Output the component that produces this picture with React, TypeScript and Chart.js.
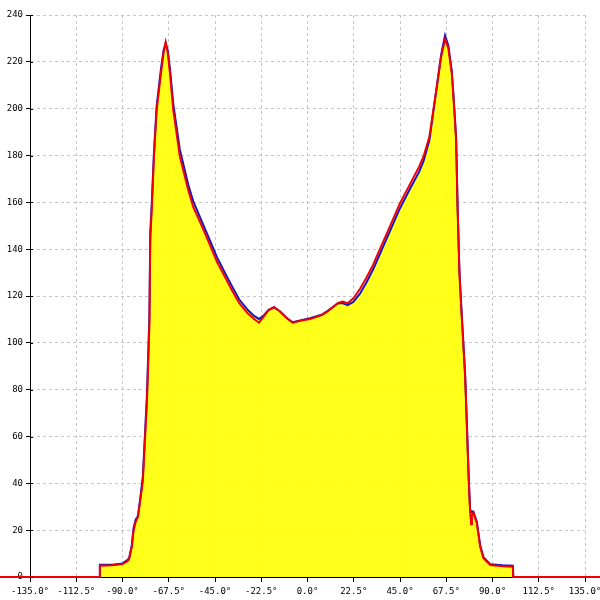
import React, { useEffect, useRef } from "react";
import { Chart, registerables } from "chart.js";

Chart.register(...registerables);

const angles = [
  -150, -101.2, -101, -95, -90, -88, -86.8, -85.5, -84.6, -83.6, -82.5, -81.3, -80.1, -78.1, -76.9, -76.5, -75.7,
  -74.7, -73.4, -71.3, -70, -69, -68, -66.9, -65.3, -62.1, -58, -55.6, -52, -48.3, -44, -40.2, -36.5, -33.2, -29,
  -26, -23.6, -21.5, -19, -16.3, -13.5, -10, -7.2, -3, 1.2, 6.9, 10, 14.7, 17, 19.5, 22.3, 25.5, 28.8, 32, 35, 40,
  45, 50, 54.3, 56.4, 59.3, 61.2, 63, 65, 66.9, 68.5, 70.2, 71.3, 72.3, 73, 73.9, 74.6, 76.7, 78.5, 79.1, 79.6, 80,
  80.7, 82.4, 84, 85.6, 88.9, 95, 99.9, 100.1, 150,
];

const redValues = [
  0, 0, 4.8, 5.0, 5.5, 6.5, 7.5, 12.8, 20, 23.5, 25.6, 33, 41, 75, 108, 144, 158,
  179.5, 199.4, 215, 224, 228.4, 224, 215, 199.4, 179.5, 165.2, 158, 151, 143.5, 134.5, 128.2, 122, 116.9, 112.5,
  110.2, 108.6, 111, 114, 115.2, 113.5, 110.5, 108.6, 109.5, 110.2, 111.9, 113.5, 117, 117.6, 116.9, 119, 123, 128, 133.5, 139.6, 149.5,
  159.6, 168, 175.2, 179.5, 188, 199.4, 210, 222, 229.6, 226, 215, 201, 186.6, 158, 130, 118, 85.5, 40, 28, 22.5, 26.5,
  27.5, 22.9, 12.9, 8, 5.1, 4.6, 4.4, 0, 0,
];

const blueValues = [
  0, 0, 5.2, 5.2, 5.8, 7, 8, 13.5, 21, 24.5, 26, 34, 43, 78, 112, 147, 161,
  181, 201, 217, 225, 228, 225, 217, 202, 182.5, 167.5, 160.5, 153, 145.5, 136.5, 130, 123.8, 118.5, 114,
  111.5, 110.2, 111.5, 114, 115.2, 113.5, 110.5, 108.8, 109.7, 110.5, 112, 113.8, 116.8, 117, 116.1, 117.5, 121, 126, 131.5, 137.5, 147.5,
  157.5, 166, 173, 177.5, 186.5, 198.5, 210, 223, 231.3, 227, 216, 202, 187.5, 159, 131, 119, 86.5, 41, 29, 27.8, 28,
  28, 23.5, 13.5, 8.5, 5.5, 5, 4.8, 0, 0,
];

const xMin = -135;
const xMax = 135;
const xStep = 22.5;
const yMin = 0;
const yMax = 240;
const yStep = 20;

const crossTicks = {
  id: "crossTicks",
  afterDraw(chart: any) {
    const ys = chart.scales.y;
    const left = chart.chartArea.left;
    const ctx = chart.ctx;
    ctx.save();
    ctx.strokeStyle = "#000";
    ctx.lineWidth = 1;
    ys.ticks.forEach((t: any) => {
      const py = Math.round(ys.getPixelForValue(t.value)) + 0.5;
      ctx.beginPath();
      ctx.moveTo(left, py);
      ctx.lineTo(left + 3, py);
      ctx.stroke();
    });
    ctx.restore();
  },
};

export default function App() {
  const ref = useRef<HTMLCanvasElement | null>(null);

  useEffect(() => {
    document.body.style.margin = "0";
    const canvas = ref.current;
    if (!canvas) return;
    const tickFont = { family: "DejaVu Sans Mono", size: 9 };
    const chart = new Chart(canvas, {
      type: "line",
      data: {
        datasets: [
          {
            label: "red",
            data: angles.map((a, i) => ({ x: a, y: redValues[i] })),
            borderColor: "rgb(240,0,0)",
            borderWidth: 2,
            pointRadius: 0,
            tension: 0,
            fill: false,
            clip: false as any,
          },
          {
            label: "blue",
            data: angles.map((a, i) => ({ x: a, y: blueValues[i] })),
            borderColor: "rgb(20,20,200)",
            backgroundColor: "rgba(255,255,0,0.9)",
            borderWidth: 2,
            pointRadius: 0,
            tension: 0,
            fill: "origin",
            clip: false as any,
          },
        ],
      },
      options: {
        responsive: false,
        animation: false,
        layout: { autoPadding: false, padding: { top: 15, right: 15, left: 0, bottom: 0 } } as any,
        plugins: { legend: { display: false }, tooltip: { enabled: false } },
        scales: {
          x: {
            type: "linear",
            min: xMin,
            max: xMax,
            afterFit: (s: any) => {
              s.height = 23;
              s.paddingLeft = 0;
              s.paddingRight = 0;
            },
            ticks: {
              stepSize: xStep,
              autoSkip: false,
              maxRotation: 0,
              padding: 4,
              color: "#000",
              font: tickFont,
              callback: (v: any) => Number(v).toFixed(1) + "°",
            },
            grid: { color: "#c6c6c6", tickColor: "#000", tickLength: 5, lineWidth: 1 },
            border: { color: "#000", width: 1, dash: [3, 3] },
          },
          y: {
            type: "linear",
            min: yMin,
            max: yMax,
            afterFit: (s: any) => {
              s.width = 30;
              s.paddingTop = 0;
              s.paddingBottom = 0;
            },
            ticks: {
              stepSize: yStep,
              padding: 3,
              color: "#000",
              font: tickFont,
            },
            grid: { color: "#c6c6c6", tickColor: "#000", tickLength: 4, lineWidth: 1 },
            border: { color: "#000", width: 1, dash: [3, 3] },
          },
        },
      },
      plugins: [crossTicks],
    });
    return () => chart.destroy();
  }, []);

  return (
    <div style={{ position: "absolute", left: 0, top: 0, width: 600, height: 600, background: "#fff" }}>
      <canvas ref={ref} width={600} height={600} style={{ display: "block" }} />
    </div>
  );
}
